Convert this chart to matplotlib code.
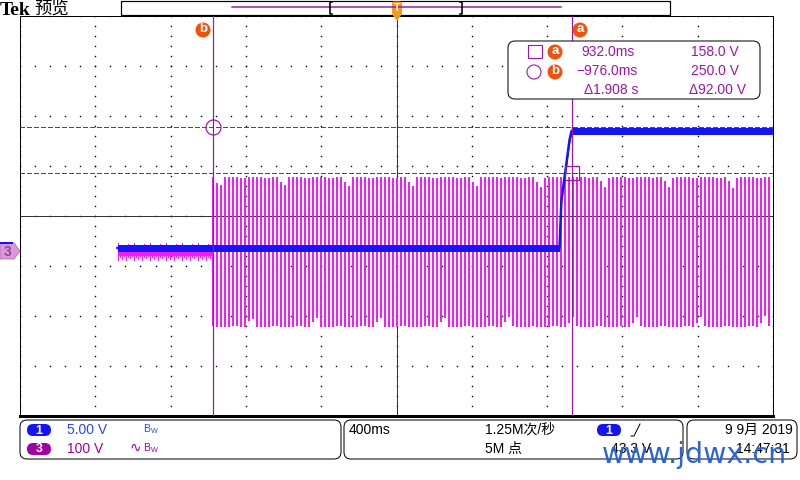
import numpy as np
import matplotlib
matplotlib.use("Agg")
import matplotlib.pyplot as plt
from matplotlib.patches import FancyBboxPatch, Rectangle, Circle, Polygon

plt.rcParams["font.family"] = ["Liberation Sans", "Noto Sans CJK SC", "DejaVu Sans"]

# --- scope settings ---
T_DIV = 0.4            # 400 ms/div, 10 divisions
CH1_VDIV = 5.0         # V/div
CH3_VDIV = 100.0
CH1_POS = -0.64        # ground marker position, divisions
CH3_POS = -0.72

# channel 1 (blue): low level, rising edge, high level
ch1_t = [-1.482, 0.866, 0.876, 0.898, 0.919, 0.930, 1.997]
ch1_v = [0.0, 0.0, 4.8, 7.8, 10.8, 11.7, 11.7]
CH1_BAND_V = 0.35

# channel 3 (magenta): idle noise, then mains sine from cursor b on
ch3_start, ch3_on, ch3_end = -1.482, -0.975, 1.997
CH3_PEAK_V = 150.0
MAINS_HZ = 50.0
ch3_idle_top = [18, 9, 14, 7, 12, 16, 8, 11]
ch3_idle_bot = [-16, -9, -13, -7, -15, -10, -12, -8]

# cursors
cur_a_t, cur_a_v = 0.932, 158.0
cur_b_t, cur_b_v = -0.976, 250.0

BLUE = "#1414F5"
MAG = "#F01EF0"
PURP = "#9A16A6"
ORANGE = "#F0520C"
PX = 0.72  # points per pixel at dpi 100
SEC_PER_PX = T_DIV / 75.3


def ch1_div(v):
    return np.asarray(v) / CH1_VDIV + CH1_POS


def ch3_div(v):
    return np.asarray(v) / CH3_VDIV + CH3_POS


fig = plt.figure(figsize=(8, 4.8), dpi=100)
ax = fig.add_axes([20 / 800, 64 / 480, 753 / 800, 400 / 480])
ax.set_xlim(-5 * T_DIV, 5 * T_DIV)
ax.set_ylim(-4, 4)
ax.set_xticks([])
ax.set_yticks([])
for s in ax.spines.values():
    s.set_linewidth(1 * PX)
ax.spines["bottom"].set_linewidth(3 * PX)

# graticule dots
xmaj = -5 * T_DIV + T_DIV * np.arange(11)
ymin = np.arange(-4, 4.001, 0.2)
gx, gy = np.meshgrid(xmaj, ymin)
ax.plot(gx.ravel(), gy.ravel(), "s", ms=1.0, mew=0, color="black", zorder=1)
ymaj = np.arange(-4, 5)
xmin = np.arange(-5 * T_DIV, 5 * T_DIV + 1e-9, T_DIV / 5)
gx, gy = np.meshgrid(xmin, ymaj)
ax.plot(gx.ravel(), gy.ravel(), "s", ms=1.0, mew=0, color="black", zorder=1)
ax.axhline(0, color="#333333", lw=1 * PX, zorder=1)
ax.axvline(0, color="#333333", lw=1 * PX, zorder=1)

# ch3 idle noise
ti = np.arange(ch3_start, ch3_on, 2 * SEC_PER_PX)
reps = int(np.ceil(len(ti) / len(ch3_idle_top)))
top = np.tile(ch3_idle_top, reps)[:len(ti)]
bot = np.tile(ch3_idle_bot, reps)[:len(ti)]
ax.fill_between([ch3_start, ch3_on], ch3_div(-8), ch3_div(8), color=MAG, lw=0, zorder=2)
ax.vlines(ti, ch3_div(bot), ch3_div(top), color=MAG, lw=1.0 * PX, antialiased=False, zorder=2)

# ch3 mains sine, drawn as min/max stripes like the scope display
ts = np.arange(ch3_on, ch3_end, 4 * SEC_PER_PX)
sub = np.linspace(0, 0.8 / MAINS_HZ, 16)
vals = CH3_PEAK_V * np.sin(2 * np.pi * MAINS_HZ * (ts[:, None] + sub))
ax.vlines(ts, ch3_div(vals.min(1)), ch3_div(vals.max(1)), color=MAG,
          lw=2.0 * PX, antialiased=False, zorder=2)

# ch1 on top of ch3
y1 = ch1_div(ch1_v)
b = CH1_BAND_V / CH1_VDIV
ax.fill_between(ch1_t, y1 - b, y1 + b, color=BLUE, lw=0, zorder=3)
ax.plot(ch1_t, y1, color=BLUE, lw=2.5 * PX, zorder=3)

# cursors
for t in (cur_a_t, cur_b_t):
    ax.axvline(t, color=PURP, lw=1.2 * PX, zorder=4)
for v in (cur_a_v, cur_b_v):
    ax.axhline(ch3_div(v), color=PURP, lw=1.2 * PX, dashes=(3.6, 2.4), antialiased=False, zorder=4)
ax.plot(cur_a_t, ch3_div(cur_a_v), "s", ms=14 * PX, mfc="none", mec=PURP, mew=1.2 * PX, zorder=4)
ax.plot(cur_b_t, ch3_div(cur_b_v), "o", ms=15 * PX, mfc="none", mec=PURP, mew=1.2 * PX, zorder=4)

# --- screen furniture in pixel coordinates ---
ov = fig.add_axes([0, 0, 1, 1])
ov.set_xlim(0, 800)
ov.set_ylim(480, 0)
ov.axis("off")
ov.patch.set_alpha(0)

ov.text(0, 15, "Tek", family="Liberation Serif", weight="bold", fontsize=14, va="baseline")
ov.text(34, 9, "预览", family="Noto Sans CJK SC", fontsize=12.5, va="center")

# record bar
ov.add_patch(Rectangle((121, 0.8), 549, 14.2, fc="white", ec="black", lw=1.2 * PX))
ov.plot([232, 561], [7, 7], color=PURP, lw=1.5 * PX)
ov.plot([332, 330, 330, 332], [2, 2, 14, 14], color="black", lw=1.6 * PX)
ov.plot([460, 462, 462, 460], [2, 2, 14, 14], color="black", lw=1.6 * PX)
ov.add_patch(FancyBboxPatch((392, 1.5), 10, 13, boxstyle="round,pad=0,rounding_size=2",
                            fc="#F39A1E", ec="none"))
ov.add_patch(Polygon([(392, 14), (402, 14), (397, 21)], fc="#F39A1E", ec="none"))
ov.text(397, 8, "T", color="white", weight="bold", fontsize=7.5, ha="center", va="center")


def badge(x, y, letter):
    ov.add_patch(Circle((x, y), 7.5, fc=ORANGE, ec="none"))
    ov.text(x, y - 0.5, letter, color="white", weight="bold", fontsize=9.5, ha="center", va="center")


badge(203, 30, "b")
badge(580, 30, "a")

# cursor readout
ov.add_patch(FancyBboxPatch((508, 41), 252, 58, boxstyle="round,pad=0,rounding_size=7",
                            fc="white", ec="black", lw=1 * PX))
ov.add_patch(Rectangle((528, 45), 14, 13, fc="none", ec=PURP, lw=1.1 * PX))
ov.add_patch(Circle((534, 72), 7, fc="none", ec=PURP, lw=1.1 * PX))
badge(555, 52, "a")
badge(555, 72, "b")
rk = dict(color=PURP, fontsize=10, ha="right", va="center")
ov.text(635, 52, f"{cur_a_t * 1000:.1f}ms", **rk)
ov.text(739, 52, f"{cur_a_v:.1f} V", **rk)
ov.text(638, 71, f"\u2212{abs(cur_b_t) * 1000:.1f}ms", **rk)
ov.text(739, 71, f"{cur_b_v:.1f} V", **rk)
ov.text(638, 90, f"\u0394{cur_a_t - cur_b_t:.3f} s", **rk)
ov.text(746, 90, f"\u0394{cur_b_v - cur_a_v:.2f} V", **rk)

# ch3 ground marker with ch1 marker hidden behind it
ov.add_patch(Polygon([(0, 243), (14, 243), (20, 251), (14, 259), (0, 259)],
                     fc="#DC96DC", ec="#B868B8", lw=0.8 * PX))
ov.add_patch(Rectangle((0, 241.5), 13, 2, fc=BLUE, ec="none"))
ov.text(8, 251.5, "3", color="#8A4A8A", weight="bold", fontsize=10, ha="center", va="center")

# bottom status bar
for x0, w in ((20, 321), (344, 339), (687, 110)):
    ov.add_patch(FancyBboxPatch((x0, 420), w, 39, boxstyle="round,pad=0,rounding_size=7",
                                fc="white", ec="black", lw=1 * PX))


def pill(x, y, txt, col):
    ov.add_patch(FancyBboxPatch((x, y), 24, 12, boxstyle="round,pad=0,rounding_size=6",
                                fc=col, ec="none"))
    ov.text(x + 12, y + 6.5, txt, color="white", weight="bold", fontsize=9, ha="center", va="center")


tk = dict(fontsize=10, va="center")
pill(27, 424, "1", BLUE)
ov.text(67, 430, f"{CH1_VDIV:.2f} V", color="#2846FF", **tk)
ov.text(143, 429, r"$\mathregular{B_W}$", color="#2846FF", fontsize=7.5, va="center")
pill(27, 443, "3", "#A000A0")
ov.text(67, 449, f"{CH3_VDIV:.0f} V", color="#A000A0", **tk)
ov.text(130, 448, "\u223f", color="#A000A0", family="DejaVu Sans", fontsize=10, va="center")
ov.text(143, 448, r"$\mathregular{B_W}$", color="#A000A0", fontsize=7.5, va="center")

ov.text(349, 430, f"{T_DIV * 1000:.0f}ms", color="black", **tk)
ov.text(485, 430, "1.25M次/秒", color="black", **tk)
ov.text(485, 449, "5M 点", color="black", **tk)
pill(597, 424, "1", BLUE)
ov.plot([631, 634, 640], [436, 436, 424], color="black", lw=1 * PX)
ov.text(651, 449, "43.3 V", color="black", ha="right", fontsize=10, va="center")
ov.text(793, 430, "9 9月 2019", color="black", ha="right", fontsize=10, va="center")
ov.text(790, 449, "14:47:31", color="black", ha="right", fontsize=10, va="center")

# site watermark stamped over the lower right corner, as in the screenshot
ov.text(602, 455, "www.jdwx.cn", color="#2B63D9", family="DejaVu Sans", fontsize=20.5,
        va="center", zorder=10)

fig.savefig("out.png", dpi=100)
